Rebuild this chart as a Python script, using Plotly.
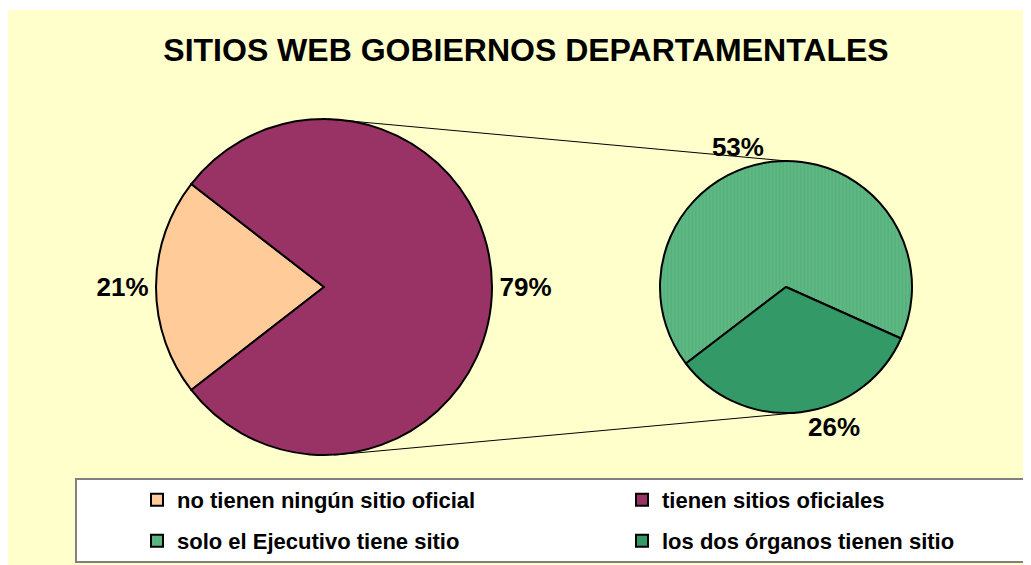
import plotly.graph_objects as go

# data (percent of all departmental governments)
main_labels = ["no tienen ningún sitio oficial", "tienen sitios oficiales"]
main_values = [21, 79]
main_colors = ["#FFCC99", "#993366"]

sub_labels = ["solo el Ejecutivo tiene sitio", "los dos órganos tienen sitio"]
sub_values = [53, 26]
sub_colors = ["#5FB984", "#339966"]

title_text = "SITIOS WEB GOBIERNOS DEPARTAMENTALES"

# the page body adds an 8px margin, so the figure is drawn 8px in from the window corner
OFF = 8
W, H = 1031 - OFF, 565 - OFF
FONT = "Arial, Liberation Sans, sans-serif"

# pie geometry in window pixels (centre x, centre y, radius)
main_geo = (324, 287, 168)
sub_geo = (786, 287, 126)


def px(x, y):
    # window pixel -> paper coordinates
    return (x - OFF) / W, (H - (y - OFF)) / H


def domain(cx, cy, r):
    xa, ya = px(cx - r, cy + r)
    xb, yb = px(cx + r, cy - r)
    return dict(x=[xa, xb], y=[ya, yb])


label_font = dict(family=FONT, size=26, color="black", weight="bold")

fig = go.Figure()

fig.add_trace(go.Pie(
    labels=main_labels,
    values=main_values,
    sort=False,
    direction="clockwise",
    rotation=232.2,
    domain=domain(*main_geo),
    marker=dict(colors=main_colors, line=dict(color="black", width=2)),
    texttemplate="%{value}%",
    textposition="outside",
    textfont=label_font,
    legend="legend",
    hoverinfo="label+value",
))

fig.add_trace(go.Pie(
    labels=sub_labels,
    values=sub_values,
    sort=False,
    direction="clockwise",
    rotation=232.6,
    domain=domain(*sub_geo),
    marker=dict(
        colors=sub_colors,
        line=dict(color="black", width=2),
        pattern=dict(shape=["|", ""], fillmode="overlay", fgcolor="#4CA56F",
                     size=3.5, solidity=0.4),
    ),
    texttemplate="%{value}%",
    textposition="outside",
    textfont=label_font,
    legend="legend2",
    hoverinfo="label+value",
))

# connector lines between the two pies
mx, my, mr = main_geo
sx, sy, sr = sub_geo
x0, y0 = px(mx + 4, my - mr)
x1, y1 = px(sx + 1, sy - sr)
x2, y2 = px(mx + 10, my + mr)
x3, y3 = px(sx + 9, sy + sr)

bg_x0, bg_y1 = px(7, 10)
box_x0, box_y1 = px(76, 479)
_, box_y0 = px(0, 562)

shapes = [
    # chart area background
    dict(type="rect", xref="paper", yref="paper", x0=max(bg_x0, 0), x1=1, y0=0, y1=bg_y1,
         fillcolor="#FFFFCC", line=dict(width=0), layer="below"),
    # legend box
    dict(type="rect", xref="paper", yref="paper", x0=box_x0, x1=1.01, y0=box_y0, y1=box_y1,
         fillcolor="white", line=dict(color="#808080", width=2), layer="below"),
    dict(type="line", xref="paper", yref="paper", x0=x0, y0=y0, x1=x1, y1=y1,
         line=dict(color="black", width=1)),
    dict(type="line", xref="paper", yref="paper", x0=x2, y0=y2, x1=x3, y1=y3,
         line=dict(color="black", width=1)),
]

legend_x, row1_y = px(OFF + 55.5, 500)
_, row2_y = px(0, 541)

legend_style = dict(
    orientation="h",
    indentation=76,
    entrywidth=364,
    font=dict(family=FONT, size=22, color="black", weight="bold"),
    bgcolor="rgba(0,0,0,0)",
    xanchor="left",
    yanchor="middle",
    itemclick=False,
)

title_x, title_y = px(526, 50)

fig.update_layout(
    width=W,
    height=H,
    margin=dict(l=0, r=0, t=0, b=0),
    paper_bgcolor="white",
    plot_bgcolor="white",
    title=dict(text=title_text, x=title_x, xanchor="center", y=title_y, yanchor="middle",
               font=dict(family=FONT, size=32, color="black", weight="bold")),
    shapes=shapes,
    showlegend=True,
    legend=dict(legend_style, x=legend_x, y=row1_y),
    legend2=dict(legend_style, x=legend_x, y=row2_y),
)

fig.write_html("out.html")
